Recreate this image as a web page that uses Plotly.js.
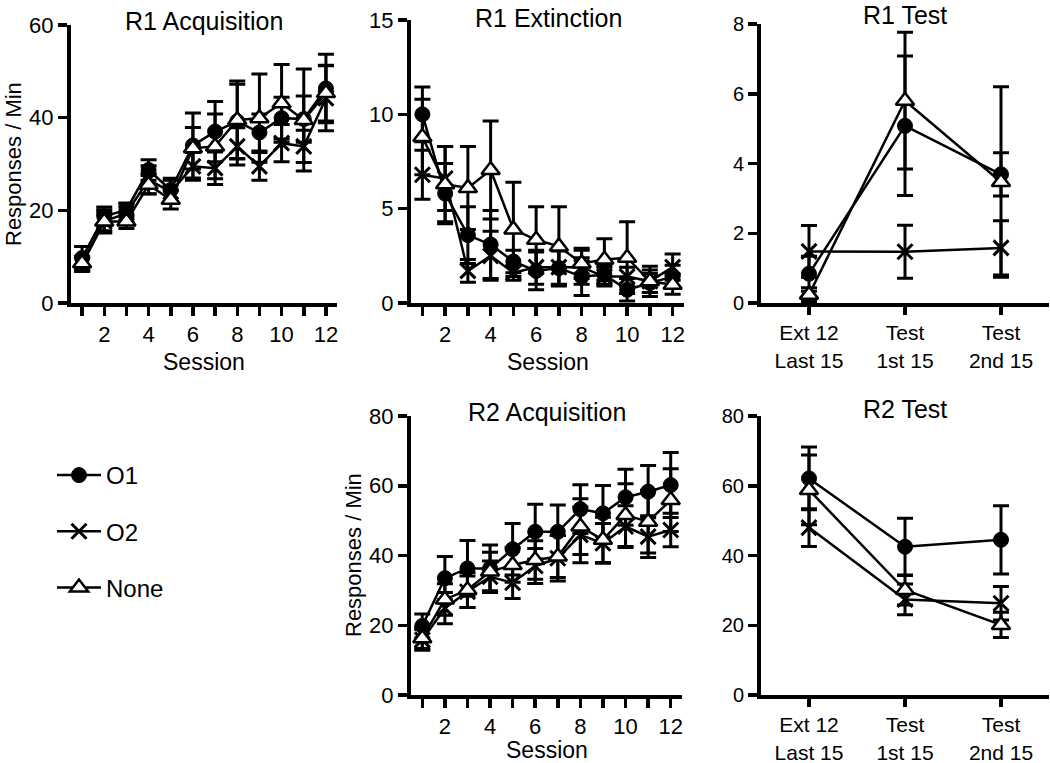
<!DOCTYPE html>
<html>
<head>
<meta charset="utf-8">
<script src="https://cdn.plot.ly/plotly-3.0.1.min.js"></script>
<style>
  html, body { margin: 0; padding: 0; background: #fff; }
  #chart { width: 1050px; height: 763px; }
</style>
</head>
<body>
<div id="chart"></div>
<script>
// sessions 1-12 and the three test bins
var sessions = [1, 2, 3, 4, 5, 6, 7, 8, 9, 10, 11, 12];
var sessionTicks = ["", "2", "", "4", "", "6", "", "8", "", "10", "", "12"];
var testBins = ["Ext 12<br>Last 15", "Test<br>1st 15", "Test<br>2nd 15"];

// R1 acquisition
var r1AcqO1 = [9.7, 18.7, 20.1, 28.7, 24.4, 34.0, 37.0, 39.2, 36.8, 39.9, 39.7, 46.3];
var r1AcqO1Err = [2.5, 2.0, 1.5, 2.2, 2.5, 7.0, 6.5, 8.0, 4.0, 4.5, 5.0, 7.4];
var r1AcqO2 = [8.3, 17.6, 19.4, 26.6, 24.0, 29.5, 29.1, 33.8, 29.5, 34.5, 33.8, 44.2];
var r1AcqO2Err = [1.5, 2.5, 2.0, 3.0, 2.5, 3.0, 3.5, 4.0, 3.0, 4.0, 3.5, 7.0];
var r1AcqNone = [8.6, 17.6, 17.6, 25.5, 22.3, 33.4, 33.8, 39.5, 39.9, 43.1, 39.5, 45.3];
var r1AcqNoneErr = [1.5, 2.0, 1.5, 2.0, 2.0, 4.5, 7.0, 8.4, 9.5, 8.4, 11.0, 6.0];

// R1 extinction
var r1ExtO1 = [10.0, 5.8, 3.6, 3.1, 2.2, 1.7, 1.85, 1.4, 1.5, 0.7, 1.06, 1.4];
var r1ExtO1Err = [1.45, 1.6, 1.5, 1.8, 0.6, 1.0, 0.9, 1.0, 0.5, 0.6, 0.5, 0.6];
var r1ExtO2 = [6.8, 6.6, 1.7, 2.5, 1.6, 1.9, 1.9, 1.9, 1.4, 1.4, 1.15, 1.9];
var r1ExtO2Err = [1.3, 1.7, 0.6, 1.3, 0.4, 0.9, 0.9, 0.9, 0.5, 0.5, 0.6, 0.7];
var r1ExtNone = [8.8, 6.3, 6.1, 7.05, 3.9, 3.35, 3.0, 2.1, 2.3, 2.4, 1.15, 0.97];
var r1ExtNoneErr = [2.0, 2.0, 2.2, 2.6, 2.5, 1.75, 2.1, 0.8, 1.1, 1.9, 0.8, 0.5];

// R1 test
var r1TestO1 = [0.84, 5.08, 3.69];
var r1TestO1Err = [0.5, 2.0, 0.62];
var r1TestO2 = [1.48, 1.47, 1.58];
var r1TestO2Err = [0.74, 0.76, 0.78];
var r1TestNone = [0.24, 5.8, 3.47];
var r1TestNoneErr = [0.2, 1.96, 2.73];

// R2 acquisition
var r2AcqO1 = [19.8, 33.5, 36.3, 36.3, 41.8, 46.8, 46.8, 53.3, 52.1, 56.7, 58.3, 60.2];
var r2AcqO1Err = [3.4, 6.2, 8.0, 6.7, 7.4, 7.9, 7.7, 7.0, 8.0, 8.0, 7.5, 9.3];
var r2AcqO2 = [15.8, 24.9, 29.6, 33.9, 32.2, 37.0, 39.2, 45.9, 43.5, 48.3, 45.4, 47.3];
var r2AcqO2Err = [3.0, 4.5, 4.5, 4.5, 4.5, 5.0, 6.5, 8.0, 5.7, 6.0, 6.0, 4.8];
var r2AcqNone = [16.3, 27.4, 30.1, 35.4, 37.3, 38.7, 39.7, 48.3, 44.5, 51.6, 49.7, 55.9];
var r2AcqNoneErr = [3.0, 4.5, 5.0, 5.5, 5.0, 5.5, 6.0, 8.0, 6.5, 9.0, 9.0, 9.0];

// R2 test
var r2TestO1 = [62.1, 42.5, 44.5];
var r2TestO1Err = [9.0, 8.2, 9.8];
var r2TestO2 = [48.0, 27.4, 26.3];
var r2TestO2Err = [5.4, 4.4, 4.8];
var r2TestNone = [58.8, 30.1, 20.1];
var r2TestNoneErr = [10.0, 4.3, 3.6];

var FONT = "Liberation Sans, Arial, sans-serif";
var W = 1050, H = 763;
function fx(p) { return p / W; }
function fy(p) { return 1 - p / H; }

var styles = {
  O1: {symbol: "circle", size: 15, color: "#000", line: {color: "#000", width: 1}},
  O2: {symbol: "x-thin-open", size: 15, color: "#000", line: {color: "#000", width: 3}},
  None: {symbol: "triangle-up", size: 16, color: "#fff", line: {color: "#000", width: 2.5}}
};

function series(name, x, y, err, xa, ya, showlegend) {
  return {
    type: "scatter",
    mode: "lines+markers",
    name: name,
    legendgroup: name,
    showlegend: showlegend,
    x: x,
    y: y,
    xaxis: xa,
    yaxis: ya,
    line: {color: "#000", width: 2.5},
    marker: styles[name],
    error_y: {type: "data", array: err, visible: true, color: "#000", thickness: 3, width: 8},
    hoverinfo: "x+y"
  };
}

var data = [
  series("O1", sessions, r1AcqO1, r1AcqO1Err, "x", "y", true),
  series("O2", sessions, r1AcqO2, r1AcqO2Err, "x", "y", true),
  series("None", sessions, r1AcqNone, r1AcqNoneErr, "x", "y", true),

  series("O1", sessions, r1ExtO1, r1ExtO1Err, "x2", "y2", false),
  series("O2", sessions, r1ExtO2, r1ExtO2Err, "x2", "y2", false),
  series("None", sessions, r1ExtNone, r1ExtNoneErr, "x2", "y2", false),

  series("O1", [0, 1, 2], r1TestO1, r1TestO1Err, "x3", "y3", false),
  series("O2", [0, 1, 2], r1TestO2, r1TestO2Err, "x3", "y3", false),
  series("None", [0, 1, 2], r1TestNone, r1TestNoneErr, "x3", "y3", false),

  series("O1", sessions, r2AcqO1, r2AcqO1Err, "x4", "y4", false),
  series("O2", sessions, r2AcqO2, r2AcqO2Err, "x4", "y4", false),
  series("None", sessions, r2AcqNone, r2AcqNoneErr, "x4", "y4", false),

  series("O1", [0, 1, 2], r2TestO1, r2TestO1Err, "x5", "y5", false),
  series("O2", [0, 1, 2], r2TestO2, r2TestO2Err, "x5", "y5", false),
  series("None", [0, 1, 2], r2TestNone, r2TestNoneErr, "x5", "y5", false)
];

function axis(extra) {
  var a = {
    showline: true, linewidth: 4, linecolor: "#000",
    ticks: "outside", tickwidth: 3.5, ticklen: 9, tickcolor: "#000",
    showgrid: false, zeroline: false, fixedrange: true,
    tickfont: {family: FONT, size: 22, color: "#000"}
  };
  for (var k in extra) a[k] = extra[k];
  return a;
}

var sessionAxis = {range: [0.5, 12.5], tickmode: "array", tickvals: sessions, ticktext: sessionTicks};
var binAxis = {range: [-0.5, 2.5], tickmode: "array", tickvals: [0, 1, 2], ticktext: testBins, ticklen: 8,
               tickfont: {family: FONT, size: 21, color: "#000"}};

var layout = {
  width: W, height: H,
  margin: {l: 0, r: 0, t: 0, b: 0},
  paper_bgcolor: "#fff", plot_bgcolor: "#fff",
  font: {family: FONT, color: "#000"},
  xaxis: axis(Object.assign({domain: [fx(71), fx(337)], anchor: "y"}, sessionAxis)),
  yaxis: axis({domain: [fy(303), fy(25)], range: [0, 60], tickvals: [0, 20, 40, 60], anchor: "x"}),
  xaxis2: axis(Object.assign({domain: [fx(411), fx(684)], anchor: "y2"}, sessionAxis)),
  yaxis2: axis({domain: [fy(303), fy(20)], range: [0, 15], tickvals: [0, 5, 10, 15], anchor: "x2"}),
  xaxis3: axis(Object.assign({domain: [fx(761), fx(1049)], anchor: "y3"}, binAxis)),
  yaxis3: axis({domain: [fy(303), fy(24)], range: [0, 8], tickvals: [0, 2, 4, 6, 8], anchor: "x3",
                tickfont: {family: FONT, size: 20, color: "#000"}}),
  xaxis4: axis(Object.assign({domain: [fx(411), fx(682)], anchor: "y4"}, sessionAxis)),
  yaxis4: axis({domain: [fy(695), fy(416)], range: [0, 80], tickvals: [0, 20, 40, 60, 80], anchor: "x4"}),
  xaxis5: axis(Object.assign({domain: [fx(761), fx(1049)], anchor: "y5"}, binAxis)),
  yaxis5: axis({domain: [fy(695), fy(416)], range: [0, 80], tickvals: [0, 20, 40, 60, 80], anchor: "x5",
                tickfont: {family: FONT, size: 20, color: "#000"}}),
  showlegend: true,
  legend: {
    x: fx(52), y: fy(453), xanchor: "left", yanchor: "top",
    traceorder: "grouped", tracegroupgap: 22,
    font: {family: FONT, size: 24, color: "#000"},
    bgcolor: "rgba(0,0,0,0)", itemwidth: 44
  },
  annotations: []
};

function label(text, xp, yp, size, angle) {
  return {
    text: text, xref: "paper", yref: "paper", x: fx(xp), y: fy(yp),
    xanchor: "center", yanchor: "middle", showarrow: false, textangle: angle || 0,
    font: {family: FONT, size: size, color: "#000"}
  };
}

layout.annotations.push(
  label("R1 Acquisition", 204, 21, 25),
  label("R1 Extinction", 548, 18, 25),
  label("R1 Test", 905, 15, 25),
  label("R2 Acquisition", 547, 412, 25),
  label("R2 Test", 905, 409, 25),
  label("Session", 204, 362, 23),
  label("Session", 548, 362, 23),
  label("Session", 547, 750, 23),
  label("Responses / Min", 13, 164, 22, -90),
  label("Responses / Min", 353, 555, 22, -90)
);

Plotly.newPlot("chart", data, layout, {displayModeBar: false, staticPlot: true});
</script>
</body>
</html>
